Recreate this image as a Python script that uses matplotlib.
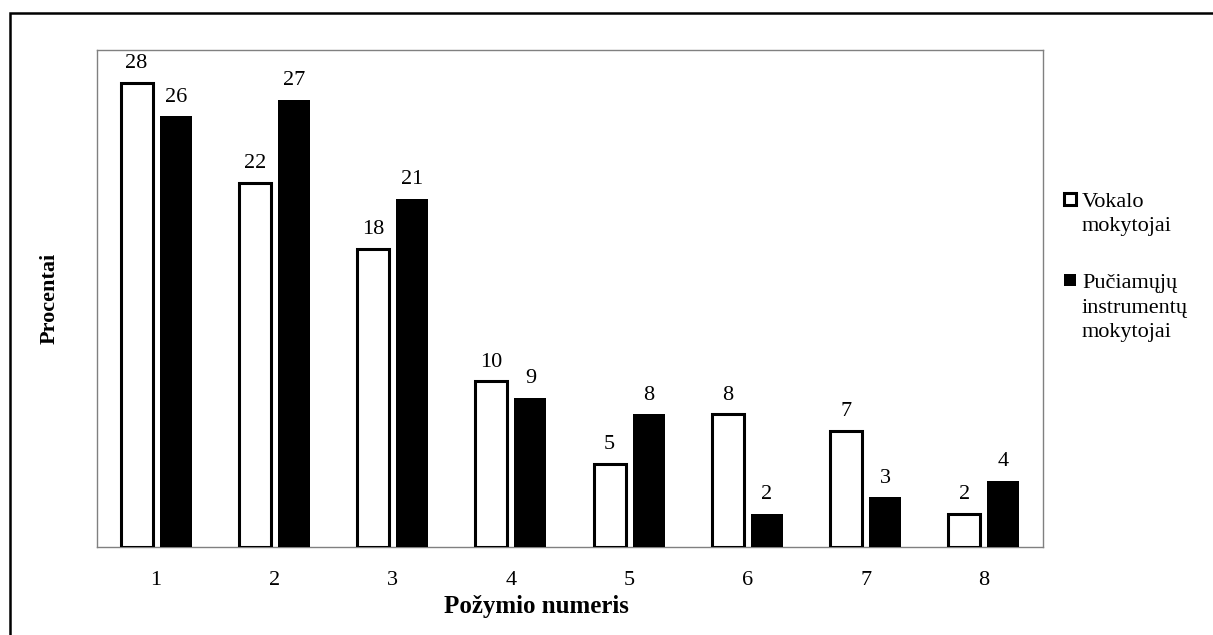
import matplotlib
matplotlib.use("Agg")
import matplotlib.pyplot as plt
from matplotlib.patches import Rectangle
import numpy as np

categories = ["1", "2", "3", "4", "5", "6", "7", "8"]
vokalo = [28, 22, 18, 10, 5, 8, 7, 2]
puciamuju = [26, 27, 21, 9, 8, 2, 3, 4]
legend_lines = [["Vokalo", "mokytojai"],
                ["Pučiamųjų", "instrumentų", "mokytojai"]]

plt.rcParams["font.family"] = ["Liberation Serif", "DejaVu Serif"]

W, H = 1213, 635
fig = plt.figure(figsize=(W / 100, H / 100), dpi=100)


def fx(px):
    return px / W


def fy(py):
    return 1 - py / H


# outer frame around the whole chart
fig.patches.append(Rectangle((fx(10), -0.05), 1.1, fy(13) + 0.05,
                             transform=fig.transFigure, fill=False,
                             edgecolor="black", linewidth=1.8, zorder=0))

ax = fig.add_axes([fx(97), fy(547), fx(1043 - 97), (547 - 50) / H])

x = np.arange(len(categories))
bw = 0.27
off = 0.165
b1 = ax.bar(x - off, vokalo, bw, facecolor="white", edgecolor="black",
            linewidth=2.2, zorder=3)
b2 = ax.bar(x + off, puciamuju, bw, facecolor="black", edgecolor="black",
            linewidth=0, zorder=3)
ax.bar_label(b1, padding=7, fontsize=16)
ax.bar_label(b2, padding=7, fontsize=16)

ax.set_xlim(-0.5, len(categories) - 0.5)
ax.set_ylim(0, 30)
ax.set_xticks(x)
ax.set_xticklabels(categories, fontsize=16)
ax.tick_params(axis="x", length=0, pad=17)
ax.set_yticks([])
for s in ax.spines.values():
    s.set_color("#808080")
    s.set_linewidth(1.0)

ax.set_xlabel("Požymio numeris", fontsize=18, fontweight="bold",
              labelpad=4, x=0.464)
ax.set_ylabel("Procentai", fontsize=16, fontweight="bold", labelpad=27)

# legend: square key beside the first line of each multi-line label
keys = [dict(facecolor="white", edgecolor="black", linewidth=2.2),
        dict(facecolor="black", edgecolor="black", linewidth=0)]
first_baselines = [207, 288]
for lines, style, base in zip(legend_lines, keys, first_baselines):
    fig.patches.append(Rectangle((fx(1064), fy(base - 2)), 12 / W, 12 / H,
                                 transform=fig.transFigure, **style))
    for i, line in enumerate(lines):
        fig.text(fx(1082), fy(base + i * 24.5), line, fontsize=16,
                 ha="left", va="baseline")

fig.savefig("out.png", dpi=100)
